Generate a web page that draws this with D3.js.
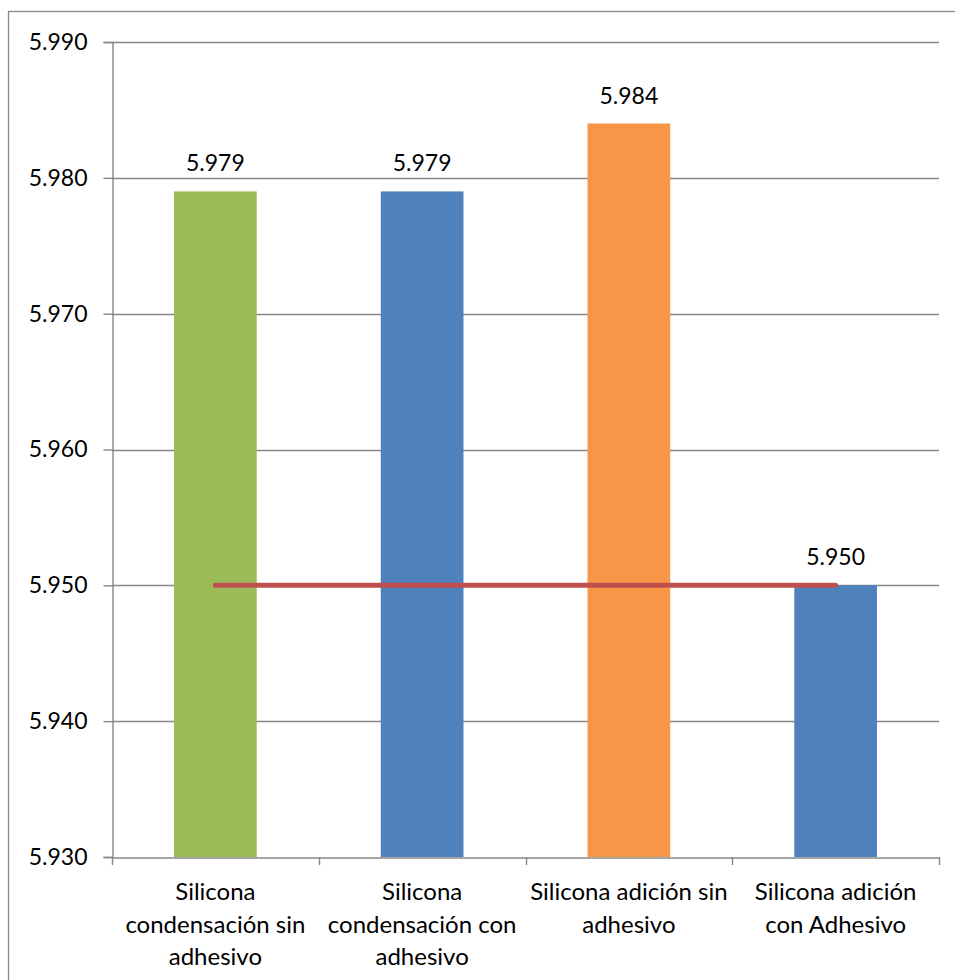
<!DOCTYPE html>
<html>
<head>
<meta charset="utf-8">
<script src="https://cdn.jsdelivr.net/npm/d3@7"></script>
<style>
  html, body { margin: 0; padding: 0; background: #fff; }
  svg { display: block; }
  text { font-family: Lato, "Open Sans", sans-serif; fill: #000; }
</style>
</head>
<body>
<svg id="chart" width="955" height="980"></svg>
<script>
const categories = [
  "Silicona\ncondensación sin\nadhesivo",
  "Silicona\ncondensación con\nadhesivo",
  "Silicona adición sin\nadhesivo",
  "Silicona adición\ncon Adhesivo"
];
const values = [5.979, 5.979, 5.984, 5.950];
const valueLabels = ["5.979", "5.979", "5.984", "5.950"];
const barColors = ["#9BBB59", "#4F81BD", "#F79646", "#4F81BD"];
const limitValues = [5.950, 5.950, 5.950, 5.950];
const yTicks = [5.930, 5.940, 5.950, 5.960, 5.970, 5.980, 5.990];

(function () {
const svg = d3.select("#chart");
const mLeft = 112, mRight = 939, mTop = 42, mBottom = 857;

// outer chart border
svg.append("rect")
  .attr("x", 8.5).attr("y", 11.5)
  .attr("width", 980).attr("height", 1000)
  .attr("fill", "none").attr("stroke", "#888").attr("stroke-width", 1.3);

const x = d3.scaleBand().domain(categories).range([mLeft, mRight]).paddingInner(0).paddingOuter(0);
const y = d3.scaleLinear().domain([5.930, 5.990]).range([mBottom, mTop]);

// gridlines
svg.append("g").selectAll("line").data(yTicks.slice(1)).join("line")
  .attr("x1", mLeft).attr("x2", mRight)
  .attr("y1", d => Math.round(y(d)) + 0.5).attr("y2", d => Math.round(y(d)) + 0.5)
  .attr("stroke", "#878787").attr("stroke-width", 1.4);

// y axis
const yAxis = d3.axisLeft(y).tickValues(yTicks).tickFormat(d3.format(".3f")).tickSize(9).tickPadding(16);
const gy = svg.append("g").attr("transform", `translate(${mLeft + 0.5},0)`).call(yAxis);
gy.selectAll("path, line").attr("stroke", "#878787").attr("stroke-width", 1.4);
gy.selectAll("text").attr("font-size", 23).attr("font-family", "Lato, sans-serif").attr("fill", "#000");

// bars
const barW = x.bandwidth() * 0.4;
svg.append("g").selectAll("rect").data(values).join("rect")
  .attr("x", (d, i) => x(categories[i]) + (x.bandwidth() - barW) / 2)
  .attr("width", barW)
  .attr("y", d => y(d))
  .attr("height", d => y(5.930) - y(d))
  .attr("fill", (d, i) => barColors[i]);

// x axis
const xAxis = d3.axisBottom(x).tickValues([]).tickSize(0);
const gx = svg.append("g").attr("transform", `translate(0,${mBottom + 0.5})`).call(xAxis);
gx.selectAll("path").attr("stroke", "#878787").attr("stroke-width", 1.4);
// boundary tick marks
const bounds = categories.map(c => x(c)).concat([mRight]);
svg.append("g").selectAll("line").data(bounds).join("line")
  .attr("x1", d => Math.round(d) + 0.5).attr("x2", d => Math.round(d) + 0.5)
  .attr("y1", mBottom).attr("y2", mBottom + 8)
  .attr("stroke", "#878787").attr("stroke-width", 1.4);

// category labels
const lab = svg.append("g");
categories.forEach((c, i) => {
  const cx = x(c) + x.bandwidth() / 2;
  c.split("\n").forEach((ln, j) => {
    lab.append("text")
      .attr("x", cx).attr("y", 900 + j * 32.5)
      .attr("text-anchor", "middle")
      .attr("font-size", 24)
      .text(ln);
  });
});

// limit line
const lineGen = d3.line()
  .x((d, i) => x(categories[i]) + x.bandwidth() / 2)
  .y(d => y(d));
svg.append("path").datum(limitValues)
  .attr("d", lineGen)
  .attr("fill", "none").attr("stroke", "#C0504D")
  .attr("stroke-width", 5).attr("stroke-linecap", "round");

// value labels
svg.append("g").selectAll("text").data(values).join("text")
  .attr("x", (d, i) => x(categories[i]) + x.bandwidth() / 2)
  .attr("y", d => y(d) - 20)
  .attr("text-anchor", "middle")
  .attr("font-size", 23)
  .text((d, i) => valueLabels[i]);
})();
</script>
</body>
</html>
